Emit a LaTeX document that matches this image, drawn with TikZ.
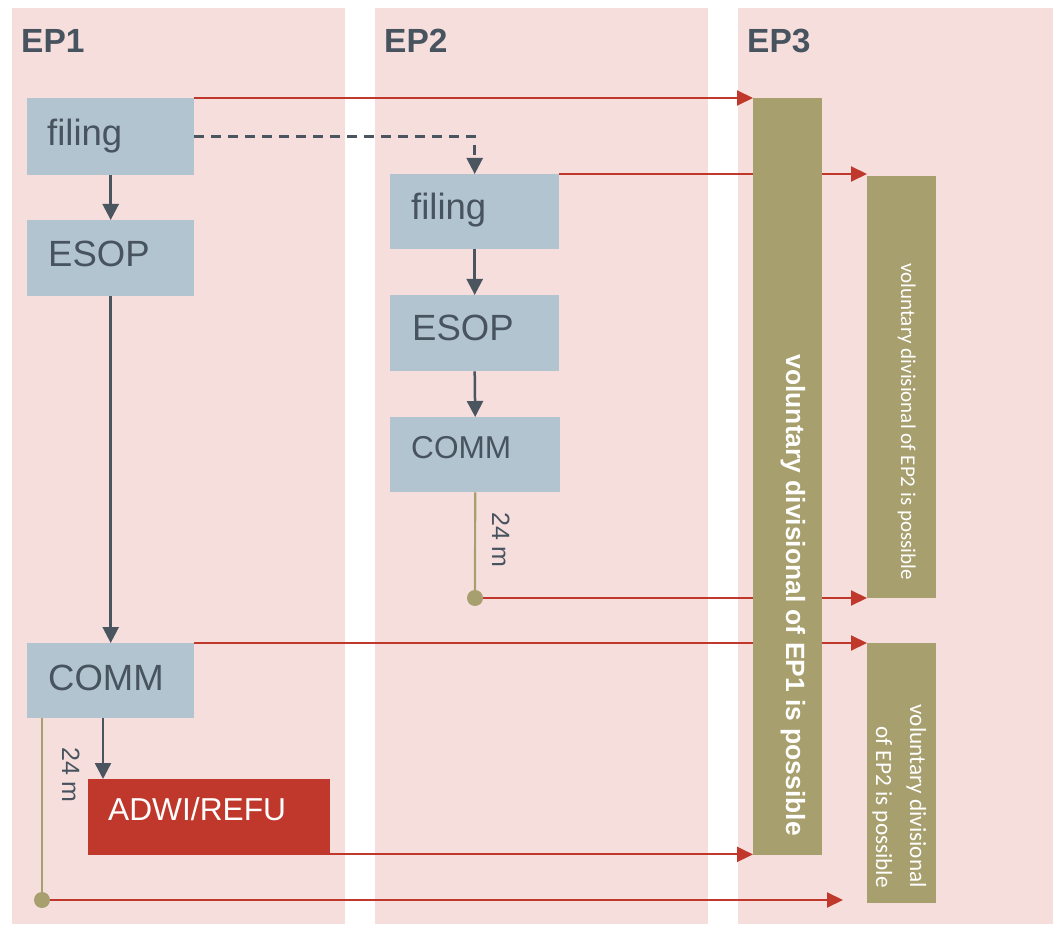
\documentclass[tikz,border=0pt]{standalone}
\usepackage{fontspec}
\setmainfont{Liberation Sans}[Ligatures=NoCommon]
\newfontfamily\carl{Carlito}
\usetikzlibrary{arrows.meta,calc}
\definecolor{lanec}{HTML}{F6DEDD}
\definecolor{boxc}{HTML}{B3C4D1}
\definecolor{txtc}{HTML}{47535E}
\definecolor{redc}{HTML}{C0372B}
\definecolor{olivec}{HTML}{A89F6E}
\definecolor{arrc}{HTML}{4A5560}
\pgfdeclarelayer{lanes}
\pgfdeclarelayer{lines}
\pgfsetlayers{lanes,lines,main}
\tikzset{
  lanebox/.style={fill=lanec,draw=none,inner sep=0,anchor=north west},
  bx/.style={fill=boxc,draw=none,inner sep=0,anchor=north west},
  redbox/.style={fill=redc,draw=none,inner sep=0,anchor=north west},
  olbox/.style={fill=olivec,draw=none,inner sep=0,anchor=north west},
  bt/.style={anchor=base west,inner sep=0,text=txtc,font=\fontsize{36.5}{40}\selectfont},
  head/.style={anchor=base west,inner sep=0,text=txtc,font=\bfseries\fontsize{33.5}{38}\selectfont},
  garrow/.style={draw=arrc,line width=2.5pt,-{Triangle[length=16pt,width=16pt]}},
  rarrow/.style={draw=redc,line width=2pt,-{Triangle[length=16pt,width=15pt]}},
  dasharrow/.style={draw=arrc,line width=2.5pt,dash pattern=on 10pt off 7pt,-{Triangle[length=16pt,width=16pt]}},
  olline/.style={draw=olivec,line width=2.2pt},
  dotc/.style={circle,fill=olivec,draw=none,minimum size=16pt,inner sep=0},
  months/.style={rotate=-90,anchor=base west,inner sep=0,text=txtc,font=\fontsize{25}{28}\selectfont}
}
\begin{document}
\begin{tikzpicture}[x=1pt,y=-1pt]
\useasboundingbox (0,0) rectangle (1053,925);
% lanes
\begin{pgfonlayer}{lanes}
\node[lanebox,minimum width=333pt,minimum height=916pt] (lane1) at (12,8) {};
\node[lanebox,minimum width=333pt,minimum height=916pt] (lane2) at (375,8) {};
\node[lanebox,minimum width=315pt,minimum height=916pt] (lane3) at (738,8) {};
\end{pgfonlayer}
\node[head] (h1) at (21,53) {EP1};
\node[head] (h2) at (384,53) {EP2};
\node[head] (h3) at (747,53) {EP3};
% EP1 boxes
\node[bx,minimum width=167pt,minimum height=77pt] (f1) at (27,98) {};
\node[bt] (f1t) at (47,146) {filing};
\node[bx,minimum width=167pt,minimum height=76pt] (e1) at (27,220) {};
\node[bt] (e1t) at (48,267) {ESOP};
\node[bx,minimum width=167pt,minimum height=75pt] (c1) at (27,643) {};
\node[bt] (c1t) at (48,690) {COMM};
\node[redbox,minimum width=242pt,minimum height=76pt] (adwi) at (88,779) {};
\node[anchor=base west,inner sep=0,text=white,font=\fontsize{31.7}{36}\selectfont] (adwit) at (108,820) {ADWI/REFU};
% EP2 boxes
\node[bx,minimum width=169pt,minimum height=75pt] (f2) at (390,174) {};
\node[bt] (f2t) at (411,220) {filing};
\node[bx,minimum width=169pt,minimum height=76pt] (e2) at (390,295) {};
\node[bt] (e2t) at (412,341) {ESOP};
\node[bx,minimum width=170pt,minimum height=75pt] (c2) at (390,417) {};
\node[bt,font=\fontsize{31.6}{36}\selectfont] (c2t) at (411,458) {COMM};
% EP3 bars
\node[olbox,minimum width=69pt,minimum height=757pt] (bar) at (753,98) {};
\node[rotate=-90,anchor=base east,inner sep=0,text=white,font=\bfseries\fontsize{26.4}{30}\selectfont] (bart) at (786,836) {voluntary divisional of EP1 is possible};
\node[olbox,minimum width=69pt,minimum height=422pt] (sb1) at (867,176) {};
\node[rotate=-90,anchor=base east,inner sep=0,text=white,font=\carl\fontsize{21}{25}\selectfont] (sb1t) at (901,580) {voluntary divisional of EP2 is possible};
\node[olbox,minimum width=69pt,minimum height=260pt] (sb2) at (867,643) {};
\node[rotate=-90,anchor=base east,inner sep=0,text=white,font=\carl\fontsize{23.2}{28}\selectfont] (sb2ta) at (910,888) {voluntary divisional};
\node[rotate=-90,anchor=base east,inner sep=0,text=white,font=\carl\fontsize{23.2}{28}\selectfont] (sb2tb) at (876,888) {of EP2 is possible};
% dots
\node[dotc] (d1) at (42,900) {};
\node[dotc] (d2) at (475,598) {};
\coordinate (end1) at (843,900);
\coordinate (atop) at ($(adwi.north west)+(15,0)$);
\coordinate (c1o) at ($(c1.south west)+(15,0)$);
\coordinate (aout) at ($(adwi.south east)+(0,-1)$);
% month labels
\node[months] (m1) at (62,747) {24 m};
\node[months] (m2) at (492,512) {24 m};
% connectors
\begin{pgfonlayer}{lines}
\draw[garrow] (f1.south) -- (e1.north);
\draw[garrow] (e1.south) -- (c1.north);
\draw[garrow] (atop |- c1.south) -- (atop);
\draw[garrow] (f2.south) -- (e2.north);
\draw[garrow] (e2.south) -- (c2.north);
\draw[dasharrow] (f1.east) -- (f1.east -| f2.north) -- (f2.north);
\draw[olline] (c1o) -- (d1.center);
\draw[olline] (c2.south) -- (d2.center);
\draw[rarrow] (f1.north east) -- (f1.north east -| bar.west);
\draw[rarrow] (f2.north east) -- (f2.north east -| sb1.west);
\draw[rarrow] (d2.center) -- (d2.center -| sb1.west);
\draw[rarrow] (c1.north east) -- (c1.north east -| sb2.west);
\draw[rarrow] (aout) -- (aout -| bar.west);
\draw[rarrow] (d1.center) -- (end1);
\end{pgfonlayer}
\end{tikzpicture}
\end{document}
